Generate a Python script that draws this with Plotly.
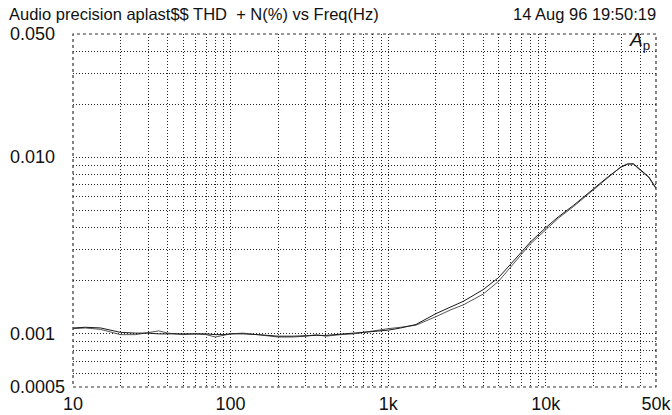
import plotly.graph_objects as go
import math

freq = [10, 12, 15, 18, 20, 25, 30, 35, 40, 50, 60, 70, 80, 90, 100, 120, 150, 200, 250, 300,
        350, 400, 500, 600, 700, 800, 1000, 1200, 1500, 2000, 2500, 3000, 4000, 5000, 6000,
        7000, 8000, 10000, 12000, 15000, 20000, 25000, 30000, 33000, 36000, 40000, 45000, 50000]

thd_a = [0.00108, 0.00109, 0.00108, 0.00104, 0.00102, 0.00101, 0.00101, 0.00100, 0.00100, 0.00100,
         0.00100, 0.00100, 0.00099, 0.00099, 0.00100, 0.00100, 0.00099, 0.00097, 0.00097, 0.00098,
         0.00098, 0.00098, 0.00100, 0.00101, 0.00102, 0.00103, 0.00105, 0.00108, 0.00113, 0.00130,
         0.00142, 0.00153, 0.00178, 0.00208, 0.00249, 0.00291, 0.00332, 0.00400, 0.00460, 0.00535,
         0.00665, 0.00780, 0.00880, 0.00915, 0.00920, 0.00850, 0.00775, 0.00670]

thd_b = [0.00107, 0.00108, 0.00106, 0.00102, 0.00099, 0.00099, 0.00102, 0.00104, 0.00101, 0.00099,
         0.00100, 0.00099, 0.00096, 0.00098, 0.00100, 0.00101, 0.00099, 0.00096, 0.00096, 0.00097,
         0.00099, 0.00097, 0.00099, 0.00100, 0.00102, 0.00104, 0.00107, 0.00109, 0.00112, 0.00125,
         0.00137, 0.00146, 0.00168, 0.00198, 0.00238, 0.00282, 0.00324, 0.00392, 0.00452, 0.00527,
         0.00655, 0.00775, 0.00885, 0.00920, 0.00915, 0.00840, 0.00770, 0.00665]

x_major = [10, 100, 1000, 10000, 50000]
x_labels = ["10", "100", "1k", "10k", "50k"]
x_minor = [20, 30, 40, 50, 60, 70, 80, 90, 200, 300, 400, 500, 600, 700, 800, 900,
           2000, 3000, 4000, 5000, 6000, 7000, 8000, 9000, 20000, 30000, 40000]

y_major = [0.0005, 0.001, 0.010, 0.05]
y_labels = ["0.0005", "0.001", "0.010", "0.050"]
y_minor = [0.0006, 0.0007, 0.0008, 0.0009, 0.002, 0.003, 0.004, 0.005, 0.006,
           0.007, 0.008, 0.009, 0.02, 0.03, 0.04]

title_text = "Audio precision aplast$$ THD  + N(%) vs Freq(Hz)"
date_text = "14 Aug 96 19:50:19"

FONT = "Liberation Sans, Arial, sans-serif"
GRID = "#222222"
DOT = "1px,2px"

fig = go.Figure()
fig.add_trace(go.Scatter(x=freq, y=thd_b, mode="lines", line=dict(color="#555555", width=1), showlegend=False))
fig.add_trace(go.Scatter(x=freq, y=thd_a, mode="lines", line=dict(color="#1a1a1a", width=1), showlegend=False))

grid_style = dict(showgrid=True, gridcolor=GRID, gridwidth=1, griddash=DOT,
                  zeroline=False, showline=False, ticks="", automargin=False)

fig.update_xaxes(type="log", range=[1, math.log10(50000)],
                 tickmode="array", tickvals=x_major, ticktext=x_labels,
                 minor=dict(tickmode="array", tickvals=x_minor, showgrid=True,
                            gridcolor=GRID, gridwidth=1, griddash=DOT, ticks=""),
                 tickfont=dict(family=FONT, size=18, color="#111"),
                 ticklabeloverflow="allow",
                 ticklabelstandoff=4, **grid_style)
fig.update_yaxes(type="log", range=[math.log10(0.0005), math.log10(0.05)],
                 tickmode="array", tickvals=y_major, showticklabels=False,
                 minor=dict(tickmode="array", tickvals=y_minor, showgrid=True,
                            gridcolor=GRID, gridwidth=1, griddash=DOT, ticks=""),
                 **grid_style)

# y tick labels, left-aligned as in the reference, placed on the axis scale
for v, lab in zip(y_major, y_labels):
    fig.add_annotation(text=lab, xref="paper", yref="y", x=-0.111, y=math.log10(v),
                       xanchor="left", yanchor="middle", showarrow=False,
                       font=dict(family=FONT, size=18, color="#111"))

fig.add_shape(type="rect", xref="paper", yref="paper", x0=0, x1=1, y0=0, y1=1,
              line=dict(color="#333333", width=1.2, dash="3px,3px"), layer="above")

fig.add_annotation(text=title_text, xref="paper", yref="paper", x=-0.113, y=1.0,
                   yshift=20, xanchor="left", yanchor="middle", showarrow=False,
                   font=dict(family=FONT, size=16.5, color="#111"))
fig.add_annotation(text=date_text, xref="paper", yref="paper", x=1.0, y=1.0,
                   yshift=20, xshift=2, xanchor="right", yanchor="middle", showarrow=False,
                   font=dict(family=FONT, size=16.5, color="#111"))
fig.add_annotation(text="<i>A</i><sub>p</sub>", xref="paper", yref="paper", x=0.993, y=1.02,
                   xanchor="right", yanchor="top", showarrow=False,
                   font=dict(family=FONT, size=19, color="#111"))

fig.update_layout(width=672, height=415, margin=dict(l=73, r=16, t=34, b=28),
                  paper_bgcolor="white", plot_bgcolor="white")

fig.write_html("out.html", config={"displayModeBar": False},
               post_script="document.body.style.margin='0';document.body.style.overflow='hidden';")
